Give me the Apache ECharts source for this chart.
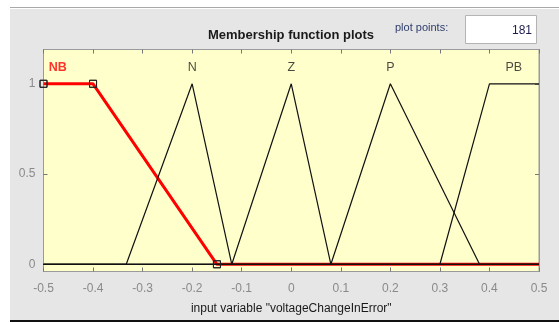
<!DOCTYPE html>
<html>
<head>
<meta charset="utf-8">
<script src="https://cdn.jsdelivr.net/npm/echarts@6/dist/echarts.min.js"></script>
<style>
  html, body { margin: 0; padding: 0; background: #ffffff; }
  #chart { width: 559px; height: 323px; }
</style>
</head>
<body>
<div id="chart"></div>
<script>
// Membership functions of the input "voltageChangeInError"
const xTicks = [-0.5, -0.4, -0.3, -0.2, -0.1, 0, 0.1, 0.2, 0.3, 0.4, 0.5];
const yTicks = [0, 0.5, 1];

const nbX = [-0.5, -0.4, -0.15, 0.5];
const nbY = [1, 1, 0, 0];
const nX = [-0.5, -0.333, -0.2, -0.12, 0.5];
const nY = [0, 0, 1, 0, 0];
const zX = [-0.5, -0.12, 0, 0.08, 0.5];
const zY = [0, 0, 1, 0, 0];
const pX = [-0.5, 0.08, 0.2, 0.38, 0.5];
const pY = [0, 0, 1, 0, 0];
const pbX = [-0.5, 0.3, 0.4, 0.5];
const pbY = [0, 0, 1, 1];

const mfNames = ['NB', 'N', 'Z', 'P', 'PB'];
const mfLabelX = [-0.471, -0.2, 0, 0.2, 0.449];
const mfLabelY = 1.09;

const plotPoints = '181';
const fontFam = '"Liberation Sans", Arial, Helvetica, sans-serif';

function pairs(xs, ys) { return xs.map((x, i) => [x, ys[i]]); }

function fmt(v) {
  if (Math.abs(v) < 1e-9) return '0';
  return String(parseFloat(v.toFixed(2)));
}

const chart = echarts.init(document.getElementById('chart'), null, { renderer: 'canvas' });

const blackLine = (xs, ys) => ({
  type: 'line',
  data: pairs(xs, ys),
  symbol: 'none',
  z: 3,
  lineStyle: { color: '#111111', width: 1.2 },
  silent: true
});

const nbData = pairs(nbX, nbY).map((p, i) => ({
  value: p,
  symbol: i < 3 ? 'rect' : 'none'
}));

const frameAxisLine = { show: true, onZero: false, lineStyle: { color: '#9a9a9a' } };
const frameTick = { show: true, inside: true, length: 4, lineStyle: { color: '#777777' } };

const option = {
  animation: false,
  backgroundColor: '#ffffff',
  graphic: [
    { type: 'rect', z: -10, shape: { x: 10, y: 9, width: 549, height: 312 }, style: { fill: '#e6e6e6' } },
    { type: 'rect', z: -9, shape: { x: 10, y: 7, width: 549, height: 1 }, style: { fill: '#a8a8a8' } },
    { type: 'rect', z: -9, shape: { x: 10, y: 320, width: 549, height: 2 }, style: { fill: '#111111' } },
    { type: 'text', x: 291, y: 35, style: { text: 'Membership function plots', font: 'bold 13px ' + fontFam, fill: '#1a1a1a', align: 'center', verticalAlign: 'middle' } },
    { type: 'text', x: 395, y: 28, style: { text: 'plot points:', font: '11px ' + fontFam, fill: '#2e3d6b', align: 'left', verticalAlign: 'middle' } },
    { type: 'rect', shape: { x: 465.5, y: 15.5, width: 71, height: 28 }, style: { fill: '#ffffff', stroke: '#b4b4b4', lineWidth: 1 } },
    { type: 'text', x: 532, y: 31, style: { text: plotPoints, font: '12px ' + fontFam, fill: '#1d1d4f', align: 'right', verticalAlign: 'middle' } }
  ],
  grid: {
    left: 43.5, top: 49.5, right: 20, bottom: 51.5,
    show: true, backgroundColor: '#ffffcc', borderColor: '#9a9a9a', borderWidth: 1
  },
  xAxis: [
    {
      type: 'value', min: -0.5, max: 0.5, interval: 0.1, position: 'bottom',
      name: 'input variable "voltageChangeInError"',
      nameLocation: 'middle', nameGap: 31,
      nameTextStyle: { color: '#1a1a1a', fontSize: 12, fontFamily: fontFam },
      axisLine: frameAxisLine,
      axisTick: frameTick,
      axisLabel: { color: '#8a8a8a', fontSize: 12, fontFamily: fontFam, margin: 11, formatter: fmt },
      splitLine: { show: false }
    },
    {
      type: 'value', min: -0.5, max: 0.5, interval: 0.1, position: 'top',
      axisLine: frameAxisLine,
      axisTick: frameTick,
      axisLabel: { show: false },
      splitLine: { show: false }
    }
  ],
  yAxis: [
    {
      type: 'value', min: -0.04, max: 1.19, position: 'left',
      axisLine: frameAxisLine,
      axisTick: Object.assign({ customValues: yTicks }, frameTick),
      axisLabel: { show: true, customValues: yTicks, color: '#8a8a8a', fontSize: 12, fontFamily: fontFam, margin: 8, formatter: fmt },
      splitLine: { show: false }
    },
    {
      type: 'value', min: -0.04, max: 1.19, position: 'right',
      axisLine: frameAxisLine,
      axisTick: Object.assign({ customValues: yTicks }, frameTick),
      axisLabel: { show: false },
      splitLine: { show: false }
    }
  ],
  series: [
    {
      type: 'line',
      name: 'NB',
      data: nbData,
      z: 2,
      symbolSize: 7,
      showAllSymbol: true,
      lineStyle: { color: '#ff0000', width: 3 },
      itemStyle: { color: 'rgba(0,0,0,0)', borderColor: '#222222', borderWidth: 1 },
      silent: true
    },
    blackLine(nX, nY),
    blackLine(zX, zY),
    blackLine(pX, pY),
    blackLine(pbX, pbY),
    {
      type: 'line',
      data: nbData,
      z: 4,
      lineStyle: { width: 0, opacity: 0 },
      symbolSize: 7,
      showAllSymbol: true,
      itemStyle: { color: 'rgba(0,0,0,0)', borderColor: '#222222', borderWidth: 1 },
      silent: true
    },
    {
      type: 'scatter',
      symbolSize: 0,
      z: 5,
      data: mfNames.map((n, i) => ({
        value: [mfLabelX[i], mfLabelY],
        name: n,
        label: {
          show: true, position: 'inside', formatter: n,
          color: i === 0 ? '#ff0000' : '#1a1a1a',
          fontWeight: i === 0 ? 'bold' : 'normal',
          fontSize: 12.5, fontFamily: fontFam
        }
      })),
      silent: true
    }
  ]
};

chart.setOption(option);
</script>
</body>
</html>
